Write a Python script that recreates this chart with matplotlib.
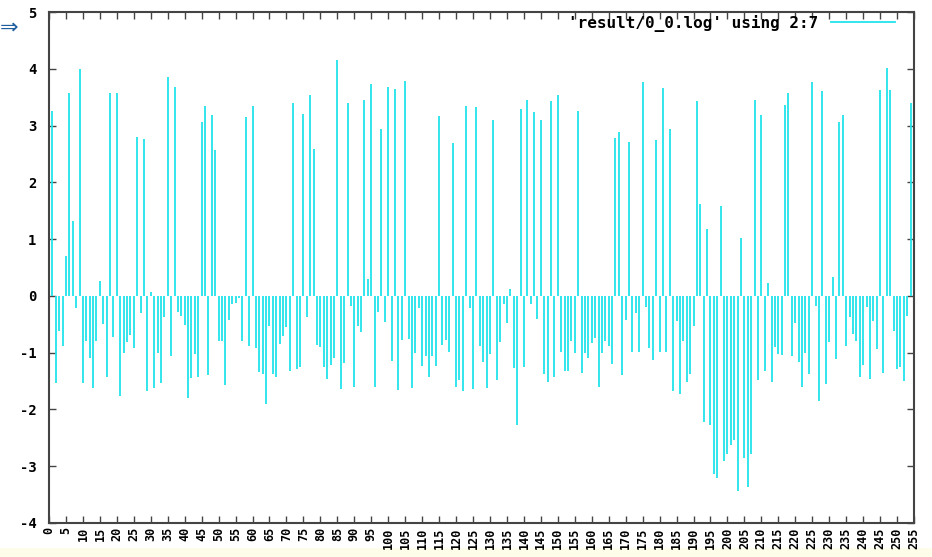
import numpy as np
import matplotlib
matplotlib.use("Agg")
import matplotlib.pyplot as plt

# column 7 of result/0_0.log, one value per x = 1..254
values = [
    3.25, -1.53, -0.62, -0.88, 0.70, 3.57, 1.32, -0.22, 4.00, -1.54,
    -0.79, -1.09, -1.62, -0.80, 0.27, -0.49, -1.42, 3.57, -0.72, 3.57,
    -1.77, -1.00, -0.82, -0.69, -0.92, 2.79, -0.30, 2.76, -1.68, 0.06,
    -1.62, -1.00, -1.54, -0.38, 3.85, -1.06, 3.68, -0.28, -0.35, -0.52,
    -1.79, -1.45, -1.03, -1.42, 3.06, 3.34, -1.40, 3.19, 2.57, -0.80,
    -0.80, -1.57, -0.43, -0.14, -0.13, -0.03, -0.80, 3.15, -0.88, 3.35,
    -0.92, -1.34, -1.38, -1.91, -0.53, -1.38, -1.42, -0.84, -0.71, -0.55,
    -1.32, 3.40, -1.29, -1.25, 3.21, -0.37, 3.54, 2.59, -0.86, -0.90,
    -1.25, -1.46, -1.21, -1.10, 4.15, -1.64, -1.18, 3.40, -0.18, -1.60,
    -0.53, -0.63, 3.45, 0.30, 3.73, -1.60, -0.28, 2.94, -0.46, 3.68,
    -1.15, 3.64, -1.66, -0.77, 3.79, -0.76, -1.62, -1.01, -0.21, -1.23,
    -1.06, -1.42, -1.05, -1.23, 3.17, -0.87, -0.77, -0.98, 2.69, -1.60,
    -1.48, -1.68, 3.34, -0.22, -1.64, 3.32, -0.88, -1.16, -1.62, -1.02,
    3.10, -1.48, -0.82, -0.14, -0.48, 0.13, -1.27, -2.27, 3.29, -1.25,
    3.45, -0.14, 3.23, -0.41, 3.10, -1.37, -1.52, 3.43, -1.42, 3.54,
    -0.99, -1.33, -1.33, -0.80, -1.00, 3.26, -1.35, -1.00, -1.10, -0.83,
    -0.75, -1.61, -1.00, -0.80, -0.89, -1.20, 2.78, 2.89, -1.40, -0.42,
    2.71, -0.98, -0.30, -0.98, 3.76, -0.19, -0.91, -1.13, 2.75, -0.98,
    3.66, -0.98, 2.94, -1.67, -0.44, -1.72, -0.80, -1.52, -1.38, -0.53,
    3.44, 1.62, -2.22, 1.18, -2.27, -3.13, -3.21, 1.59, -2.91, -2.78,
    -2.63, -2.53, -3.44, 1.02, -2.85, -3.37, -2.78, 3.45, -1.48, 3.18,
    -1.33, 0.22, -1.52, -0.90, -1.03, -1.04, 3.37, 3.57, -1.05, -0.47,
    -1.16, -1.60, -1.00, -1.37, 3.76, -0.18, -1.86, 3.60, -1.56, -0.82,
    0.33, -1.11, 3.06, 3.19, -0.88, -0.37, -0.67, -0.80, -1.43, -1.21,
    -0.20, -1.46, -0.45, -0.94, 3.62, -1.35, 4.02, 3.62, -0.61, -1.29,
    -1.25, -1.50, -0.35, 3.39,
]
x = np.arange(1, len(values) + 1)
xticks = list(range(0, 256, 5))
yticks = list(range(-4, 6))
label = "'result/0_0.log' using 2:7"

cyan = "#22e4ea"
frame = "#444444"
xfont = {"family": "DejaVu Sans Mono", "weight": "bold", "size": 8.5}
yfont = {"family": "DejaVu Sans Mono", "weight": "bold", "size": 10}
legfont = {"family": "DejaVu Sans Mono", "weight": "bold", "size": 11.5}

fig = plt.figure(figsize=(9.32, 5.57), dpi=100)
ax = fig.add_axes([49 / 932, 1 - 523 / 557, 865 / 932, 511 / 557])

ax.vlines(x, 0, values, colors=cyan, linewidth=1.3)
ax.set_xlim(0, 255)
ax.set_ylim(-4, 5)

ax.set_xticks(xticks)
ax.set_xticklabels([str(t) for t in xticks], rotation=90, fontdict=xfont)
ax.set_yticks(yticks)
ax.set_yticklabels([str(t) for t in yticks], fontdict=yfont)
ax.tick_params(direction="in", length=5, width=1, color=frame,
               top=True, right=True)
ax.tick_params(axis="x", pad=3)
ax.tick_params(axis="y", pad=9)
for s in ax.spines.values():
    s.set_color(frame)
    s.set_linewidth(1.5)

ax.plot([], [], color=cyan, linewidth=1.3, label=label)
ax.legend(loc="upper right", bbox_to_anchor=(895 / 932, 1 - 15 / 557),
          bbox_transform=fig.transFigure, frameon=False, markerfirst=False,
          prop=legfont, handlelength=4.0, borderaxespad=0.0,
          handletextpad=0.8, borderpad=0.0)

# blue arrow from the slide edge and the pale strip at the bottom
fig.text(0.0, 0.95, "\u21d2", color="#1f5f9f", fontsize=16,
         ha="left", va="center")
fig.patches.append(plt.Rectangle((0, 0), 1, 9 / 557, transform=fig.transFigure,
                                 facecolor="#fdfde9", edgecolor="none",
                                 zorder=-1))

fig.savefig("out.png", dpi=100)
